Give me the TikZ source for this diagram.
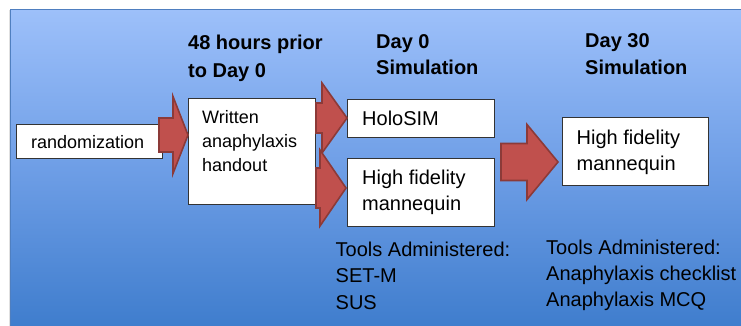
\documentclass[tikz,border=0pt]{standalone}
\usepackage{fontspec}
\setmainfont{Liberation Sans}
\usetikzlibrary{calc}

\definecolor{bgtop}{HTML}{9DC0FA}
\definecolor{bgmid}{HTML}{6E9EE6}
\definecolor{bgbot}{HTML}{3F7DCD}
\definecolor{bgedge}{HTML}{4F7FC0}
\definecolor{arrowfill}{HTML}{C0504D}
\definecolor{arrowedge}{HTML}{8C3A38}

\tikzset{
  stagebox/.style={draw=black!80, line width=0.9pt, fill=white, inner sep=0pt, anchor=north west},
  txt/.style={inner sep=0pt, anchor=base west, font=\fontsize{20}{24}\selectfont},
  smalltxt/.style={inner sep=0pt, anchor=base west, font=\fontsize{18}{22}\selectfont},
  hdr/.style={inner sep=0pt, anchor=base west, font=\fontsize{20}{24}\selectfont\bfseries},
  blockarrow/.style={fill=arrowfill, draw=arrowedge, line width=1.6pt, line join=miter},
}

% block arrow: #1 start x, #2 head base x, #3 tip x, #4 centre y, #5 half shaft, #6 half head
\newcommand{\blockarr}[6]{%
  \path[blockarrow] (#1,#4-#5) -- (#2,#4-#5) -- (#2,#4-#6) -- (#3,#4)
    -- (#2,#4+#6) -- (#2,#4+#5) -- (#1,#4+#5) -- cycle;}

\begin{document}
\begin{tikzpicture}[x=1pt, y=-1pt]
\useasboundingbox (0,0) rectangle (741,326);

% background panel with vertical gradient
\fill[white] (0,0) rectangle (741,326);
\fill[black!12] (9,10.5) rectangle (741,326);
\path[top color=bgtop, bottom color=bgbot, middle color=bgmid] (10,9.5) rectangle (742,327);
\draw[bgedge, line width=1pt] (10.5,327) -- (10.5,10) -- (742,10);

% stage boxes
\node[stagebox, minimum width=146pt, minimum height=34pt] (rand) at (16,124) {};
\node[stagebox, minimum width=127pt, minimum height=105pt] (handout) at (188,98.5) {};
\node[stagebox, minimum width=147pt, minimum height=38pt] (holo) at (347,99) {};
\node[stagebox, minimum width=147pt, minimum height=68pt] (manA) at (347,158) {};
\node[stagebox, minimum width=146pt, minimum height=68pt] (manB) at (562,117) {};

% block arrows between the stages
\blockarr{159}{173}{188}{135}{17}{38.5}
\blockarr{316}{322}{347}{118}{15}{35}
\blockarr{316}{320}{346}{188}{20}{38}
\blockarr{501}{527}{558}{162}{18.5}{37.5}

% column headings
\node[hdr] (h1a) at (188,49.3) {48 hours prior};
\node[hdr] (h1b) at (188,77.3) {to Day 0};
\node[hdr] (h2a) at (376,48.3) {Day 0};
\node[hdr] (h2b) at (376,75) {Simulation};
\node[hdr] (h3a) at (585,47.7) {Day 30};
\node[hdr] (h3b) at (585,75) {Simulation};

% box contents
\node[smalltxt] (t0) at (31,148.5) {randomization};
\node[smalltxt] (t1a) at (202,123.3) {Written};
\node[smalltxt] (t1b) at (202,147.8) {anaphylaxis};
\node[smalltxt] (t1c) at (202,171.7) {handout};
\node[txt] (t2) at (362,125.5) {HoloSIM};
\node[txt] (t3a) at (362,184) {High fidelity};
\node[txt] (t3b) at (362,210.5) {mannequin};
\node[txt] (t4a) at (576.5,144) {High fidelity};
\node[txt] (t4b) at (576.5,170.5) {mannequin};

% tools administered
\node[txt] (l1) at (335.5,256) {Tools Administered:};
\node[txt] (l2) at (335.5,282.7) {SET-M};
\node[txt] (l3) at (335.5,309.5) {SUS};
\node[txt] (r1) at (546,254) {Tools Administered:};
\node[txt] (r2) at (546,280.7) {Anaphylaxis checklist};
\node[txt] (r3) at (546,306.7) {Anaphylaxis MCQ};
\end{tikzpicture}
\end{document}
